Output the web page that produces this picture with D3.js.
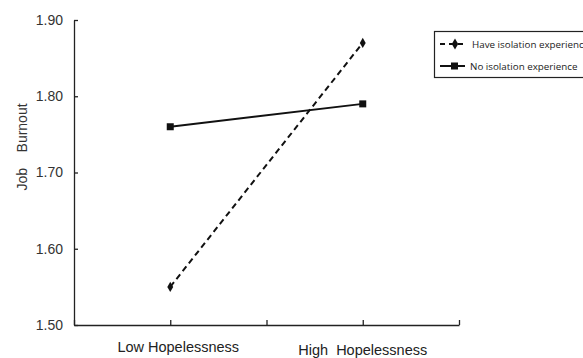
<!DOCTYPE html>
<html>
<head>
<meta charset="utf-8">
<script src="https://cdn.jsdelivr.net/npm/d3@7"></script>
<style>
  body { margin: 0; background: #fff; }
  svg { display: block; font-family: "Liberation Sans", Arial, sans-serif; }
</style>
</head>
<body>
<div id="chart"></div>
<script>
const categories = ['Low Hopelessness', 'High  Hopelessness'];
const haveIsolation = [1.55, 1.87];
const noIsolation = [1.76, 1.79];
const yTicks = [1.50, 1.60, 1.70, 1.80, 1.90];
const seriesNames = ['Have isolation experience', 'No isolation experience'];

const width = 583;
const height = 358;
const margin = { top: 20, right: 124, bottom: 33, left: 74 };

const svg = d3.select("#chart").append("svg")
    .attr("width", width).attr("height", height);

// category slots sit at 1 and 3 on a 0..4 axis
const x = d3.scaleLinear().domain([0, 4]).range([margin.left, width - margin.right]);
const y = d3.scaleLinear().domain([1.5, 1.9]).range([height - margin.bottom, margin.top]);

// y axis
const yAxis = svg.append("g")
    .attr("transform", `translate(${margin.left},0)`)
    .call(d3.axisLeft(y).tickValues(yTicks).tickFormat(d3.format(".2f")).tickSizeInner(-4).tickSizeOuter(0).tickPadding(11));
yAxis.select(".domain").attr("stroke", "#222").attr("stroke-width", 1.3);
yAxis.selectAll(".tick line").attr("stroke", "#222").attr("stroke-width", 1.3);
yAxis.selectAll(".tick text").style("font-size", "14px").attr("fill", "#333");

// x axis
const xAxis = svg.append("g")
    .attr("transform", `translate(0,${height - margin.bottom})`)
    .call(d3.axisBottom(x).tickValues([0, 1, 2, 3, 4]).tickFormat("").tickSizeInner(-5).tickSizeOuter(0));
xAxis.select(".domain").attr("stroke", "#222").attr("stroke-width", 1.3);
xAxis.selectAll(".tick line").attr("stroke", "#222").attr("stroke-width", 1.3);

// category labels
svg.selectAll(".cat")
    .data(categories)
    .enter().append("text")
    .attr("class", "cat")
    .attr("x", (d, i) => x(i * 2 + 1) + (i === 0 ? 8 : 0))
    .attr("y", (d, i) => i === 0 ? 352 : 355)
    .attr("text-anchor", "middle")
    .style("font-size", "14.5px")
    .style("white-space", "pre")
    .attr("fill", "#222")
    .text(d => d);

// y label
svg.append("text")
    .attr("transform", "rotate(-90)")
    .attr("x", -147)
    .attr("y", 27)
    .attr("text-anchor", "middle")
    .style("font-size", "14px")
    .style("white-space", "pre")
    .attr("fill", "#333")
    .text("Job    Burnout");

const line = d3.line()
    .x((d, i) => x(i * 2 + 1))
    .y(d => y(d));

// Have isolation: dashed with diamonds
svg.append("path")
    .datum(haveIsolation)
    .attr("d", line)
    .attr("fill", "none")
    .attr("stroke", "#111")
    .attr("stroke-width", 2)
    .attr("stroke-dasharray", "6,4");

const diamond = d3.symbol().type(d3.symbolDiamond).size(30);
svg.selectAll(".dia")
    .data(haveIsolation)
    .enter().append("path")
    .attr("class", "dia")
    .attr("d", diamond)
    .attr("transform", (d, i) => `translate(${x(i * 2 + 1)},${y(d)})`)
    .attr("fill", "#111");

// No isolation: solid with squares
svg.append("path")
    .datum(noIsolation)
    .attr("d", line)
    .attr("fill", "none")
    .attr("stroke", "#111")
    .attr("stroke-width", 2);

svg.selectAll(".sq")
    .data(noIsolation)
    .enter().append("rect")
    .attr("class", "sq")
    .attr("x", (d, i) => x(i * 2 + 1) - 3.5)
    .attr("y", d => y(d) - 3.5)
    .attr("width", 7)
    .attr("height", 7)
    .attr("fill", "#111");

// legend
const legend = svg.append("g");
legend.append("rect")
    .attr("x", 434.5).attr("y", 31.5)
    .attr("width", 160).attr("height", 46)
    .attr("fill", "#fff")
    .attr("stroke", "#222")
    .attr("stroke-width", 1.2);

const rows = legend.selectAll(".row")
    .data(seriesNames)
    .enter().append("g")
    .attr("class", "row")
    .attr("transform", (d, i) => `translate(0,${i === 0 ? 44 : 66})`);

rows.append("line")
    .attr("x1", 440).attr("x2", 465)
    .attr("stroke", "#111")
    .attr("stroke-width", 2)
    .attr("stroke-dasharray", (d, i) => i === 0 ? "5,4" : null);

rows.filter((d, i) => i === 0).append("path")
    .attr("d", d3.symbol().type(d3.symbolDiamond).size(36))
    .attr("transform", "translate(455,0)")
    .attr("fill", "#111");

rows.filter((d, i) => i === 1).append("rect")
    .attr("x", 451).attr("y", -3.5)
    .attr("width", 7).attr("height", 7)
    .attr("fill", "#111");

rows.append("text")
    .attr("x", (d, i) => i === 0 ? 472 : 470)
    .attr("y", 3.5)
    .style("font-family", "'Open Sans', sans-serif")
    .style("font-size", "9.8px")
    .attr("fill", "#222")
    .text(d => d);
</script>
</body>
</html>
